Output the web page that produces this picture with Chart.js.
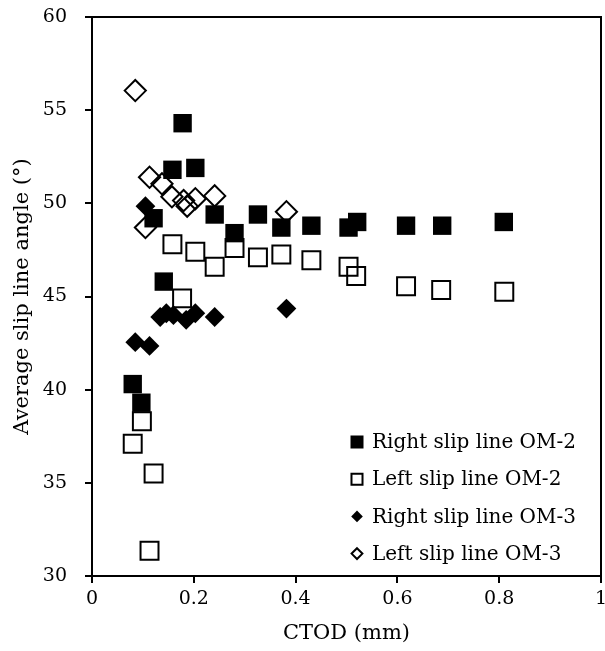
<!DOCTYPE html>
<html>
<head>
<meta charset="utf-8">
<title>Average slip line angle vs CTOD</title>
<script src="https://cdn.jsdelivr.net/npm/chart.js@4.4.0/dist/chart.umd.min.js"></script>
<style>
  body { margin: 0; background: #fff; }
  #wrap { width: 605px; height: 651px; }
</style>
</head>
<body>
<div id="wrap"><canvas id="slipChart" width="605" height="651"></canvas></div>
<script>
// CTOD (mm) / average slip line angle (deg)
const ctodRightOM2  = [0.080, 0.097, 0.121, 0.141, 0.158, 0.178, 0.203, 0.241, 0.280, 0.326, 0.372, 0.431, 0.504, 0.521, 0.617, 0.688, 0.809];
const angleRightOM2 = [40.3, 39.3, 49.2, 45.8, 51.8, 54.3, 51.9, 49.4, 48.4, 49.4, 48.7, 48.8, 48.7, 49.0, 48.8, 48.8, 49.0];

const ctodLeftOM2  = [0.080, 0.098, 0.113, 0.121, 0.158, 0.177, 0.203, 0.241, 0.280, 0.326, 0.372, 0.431, 0.504, 0.519, 0.617, 0.686, 0.810];
const angleLeftOM2 = [37.1, 38.3, 31.35, 35.5, 47.8, 44.9, 47.4, 46.6, 47.6, 47.1, 47.25, 46.95, 46.6, 46.1, 45.55, 45.35, 45.25];

const ctodRightOM3  = [0.085, 0.105, 0.113, 0.134, 0.146, 0.160, 0.185, 0.203, 0.241, 0.382];
const angleRightOM3 = [42.55, 49.85, 42.35, 43.9, 44.1, 44.0, 43.75, 44.1, 43.9, 44.35];

const ctodLeftOM3  = [0.085, 0.105, 0.113, 0.1375, 0.157, 0.180, 0.187, 0.203, 0.241, 0.382];
const angleLeftOM3 = [56.05, 48.7, 51.4, 51.05, 50.35, 50.15, 49.85, 50.25, 50.4, 49.55];

const seriesLabels = ['Right slip line OM-2', 'Left slip line OM-2', 'Right slip line OM-3', 'Left slip line OM-3'];
const xTicks = [0, 0.2, 0.4, 0.6, 0.8, 1];
const yTicks = [30, 35, 40, 45, 50, 55, 60];

const FONT = 'DejaVu Serif';

function toPoints(xs, ys) {
    return xs.map((x, i) => ({ x: x, y: ys[i] }));
}

function drawMarker(ctx, style, x, y, r, fill, lw) {
    ctx.beginPath();
    if (style === 'rect') {
        const h = r * Math.SQRT1_2;
        ctx.rect(x - h, y - h, 2 * h, 2 * h);
    } else {
        ctx.moveTo(x, y - r);
        ctx.lineTo(x + r, y);
        ctx.lineTo(x, y + r);
        ctx.lineTo(x - r, y);
        ctx.closePath();
    }
    if (fill) { ctx.fillStyle = fill; ctx.fill(); }
    if (lw) { ctx.lineWidth = lw; ctx.strokeStyle = '#000'; ctx.stroke(); }
}

// box round the plot area
const framePlugin = {
    id: 'frame',
    beforeDatasetsDraw(chart) {
        const { ctx, chartArea: a } = chart;
        ctx.save();
        ctx.strokeStyle = '#000';
        ctx.lineWidth = 2;
        ctx.strokeRect(a.left, a.top, a.right - a.left, a.bottom - a.top);
        ctx.restore();
    }
};

// legend inside the plot, bottom right
const legendPlugin = {
    id: 'innerLegend',
    afterDatasetsDraw(chart) {
        const { ctx, chartArea: a } = chart;
        const radii = [9.2, 7.8, 5.8, 5.4];
        const mx = a.right - 244;
        const y0 = a.bottom - 134;
        ctx.save();
        ctx.font = '20px "' + FONT + '"';
        ctx.fillStyle = '#000';
        ctx.textBaseline = 'middle';
        chart.data.datasets.forEach((ds, i) => {
            const y = y0 + i * 37.2;
            const open = ds.borderWidth > 0;
            drawMarker(ctx, ds.pointStyle, mx, y, radii[i], open ? '#fff' : '#000', open ? 2 : 0);
            ctx.fillStyle = '#000';
            ctx.fillText(ds.label, mx + 15, y + 1);
        });
        ctx.restore();
    }
};

new Chart(document.getElementById('slipChart'), {
    type: 'scatter',
    data: {
        datasets: [
            { label: seriesLabels[0], data: toPoints(ctodRightOM2, angleRightOM2), pointStyle: 'rect', pointRadius: 13, backgroundColor: '#000', borderColor: '#000', borderWidth: 0 },
            { label: seriesLabels[1], data: toPoints(ctodLeftOM2, angleLeftOM2), pointStyle: 'rect', pointRadius: 12.7, backgroundColor: 'rgba(255,255,255,0)', borderColor: '#000', borderWidth: 2 },
            { label: seriesLabels[2], data: toPoints(ctodRightOM3, angleRightOM3), pointStyle: 'rectRot', pointRadius: 9.9, backgroundColor: '#000', borderColor: '#000', borderWidth: 0 },
            { label: seriesLabels[3], data: toPoints(ctodLeftOM3, angleLeftOM3), pointStyle: 'rectRot', pointRadius: 10.6, backgroundColor: 'rgba(255,255,255,0)', borderColor: '#000', borderWidth: 2 }
        ]
    },
    options: {
        responsive: false,
        animation: false,
        layout: { autoPadding: false, padding: { top: 17, right: 4, left: 0, bottom: 0 } },
        plugins: {
            legend: { display: false },
            tooltip: { enabled: false }
        },
        elements: { point: { hoverRadius: 0 } },
        scales: {
            x: {
                type: 'linear',
                min: 0,
                max: 1,
                afterBuildTicks: s => { s.ticks = xTicks.map(v => ({ value: v })); },
                afterFit: s => { s.height = 75; s.paddingLeft = 0; s.paddingRight = 0; },
                border: { display: false },
                grid: { drawOnChartArea: false, drawTicks: true, tickLength: 7, color: '#000', lineWidth: 2 },
                ticks: { color: '#000', font: { family: FONT, size: 19 }, padding: 5, maxRotation: 0, callback: v => String(v) },
                title: { display: true, text: 'CTOD (mm)', color: '#000', font: { family: FONT, size: 21 }, padding: { top: 0, bottom: 5 } }
            },
            y: {
                type: 'linear',
                min: 30,
                max: 60,
                afterBuildTicks: s => { s.ticks = yTicks.map(v => ({ value: v })); },
                afterFit: s => { s.width = 92; s.paddingTop = 0; s.paddingBottom = 0; },
                border: { display: false },
                grid: { drawOnChartArea: false, drawTicks: true, tickLength: 7, color: '#000', lineWidth: 2 },
                ticks: { color: '#000', font: { family: FONT, size: 19 }, padding: 18, callback: v => String(v) },
                title: { display: true, text: 'Average slip line angle (°)', color: '#000', font: { family: FONT, size: 21 }, padding: { top: 10, bottom: 0 } }
            }
        }
    },
    plugins: [framePlugin, legendPlugin]
});
</script>
</body>
</html>
